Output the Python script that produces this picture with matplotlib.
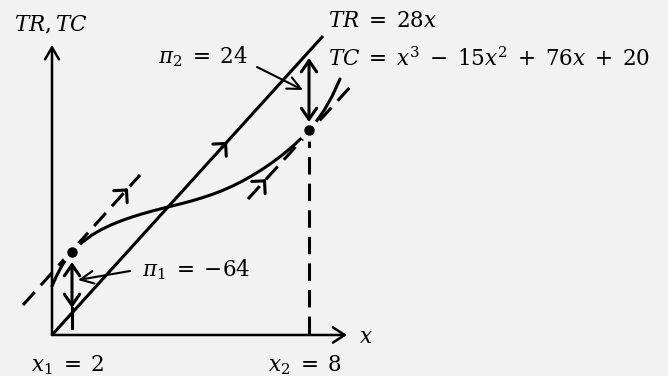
import matplotlib.pyplot as plt

plt.rcParams['mathtext.fontset'] = 'dejavuserif'

# schematic coordinates (1 unit = 10 px, origin at the axes corner)
tc_x = [0.0, 0.5, 1.0, 1.5, 2.0, 2.5, 3.0, 4.0, 5.0, 6.0, 7.0, 8.0, 9.0, 10.0,
        11.0, 12.0, 13.0, 14.0, 15.0, 16.0, 17.0, 18.0, 19.0, 20.0, 21.0, 22.0,
        23.0, 24.0, 25.0, 25.7, 26.5, 27.2, 28.0, 28.8]
tc_y = [4.9, 6.0, 6.95, 7.7, 8.3, 8.8, 9.25, 10.0, 10.58, 11.05, 11.45, 11.8,
        12.11, 12.39, 12.65, 12.9, 13.15, 13.42, 13.72, 14.05, 14.43, 14.87,
        15.37, 15.93, 16.55, 17.23, 17.98, 18.81, 19.75, 20.5, 21.45, 22.45,
        23.85, 25.6]
tr_x = [0.0, 27.1]
tr_y = [0.0, 29.9]
tan1_x = [-2.9, 8.8]
tan1_y = [3.0, 16.0]
tan2_x = [19.6, 30.0]
tan2_y = [13.6, 25.0]
x_marks = [2.0, 25.7]
tc_marks = [8.3, 20.5]
tr_marks = [2.2, 28.3]
x_labels = [r'$x_1\;=\;2$', r'$x_2\;=\;8$']

bg = '#f2f2f2'
fig = plt.figure(figsize=(6.68, 3.76), dpi=100, facecolor=bg)
ax = fig.add_axes([0, 0, 1, 1])
ax.set_facecolor(bg)
ax.set_xlim(-5.2, 61.6)
ax.set_ylim(-4.1, 33.5)
ax.axis('off')

lw = 2.2
dash = (5.7, 3.0)
fs = 15.5


def arrow(p_from, p_to, style, width=lw, z=4):
    ax.annotate('', xy=p_to, xytext=p_from,
                arrowprops=dict(arrowstyle=style, lw=width, color='k',
                                shrinkA=0, shrinkB=0, mutation_scale=10),
                zorder=z)


def chevron(xs, ys, t):
    # small arrow head sitting on a line, pointing up the line
    x = xs[0] + t * (xs[1] - xs[0])
    y = ys[0] + t * (ys[1] - ys[0])
    dx = (xs[1] - xs[0]) * 0.02
    dy = (ys[1] - ys[0]) * 0.02
    arrow((x - dx, y - dy), (x, y), '->,head_length=0.65,head_width=0.65')


# axes
arrow((0, 0), (0, 29.0), '->,head_length=0.85,head_width=0.5', width=1.8)
arrow((0, 0), (29.5, 0), '->,head_length=0.85,head_width=0.55', width=1.8)

# TR, TC and tangents
ax.plot(tr_x, tr_y, color='k', lw=lw, solid_capstyle='butt')
ax.plot(tc_x, tc_y, color='k', lw=lw, solid_capstyle='round',
        solid_joinstyle='round')
ax.plot(tan1_x, tan1_y, color='k', lw=lw, dashes=dash)
ax.plot(tan2_x, tan2_y, color='k', lw=lw, dashes=dash)
chevron(tr_x, tr_y, 0.646)
chevron(tan1_x, tan1_y, 0.897)
chevron(tan2_x, tan2_y, 0.173)

# drop line at x2
ax.plot([x_marks[1], x_marks[1]], [tc_marks[1], 0], color='k', lw=lw, dashes=dash)

# tangency points with a gap around them
ax.plot(x_marks, tc_marks, 'o', ms=15, color=bg, zorder=5)
ax.plot(x_marks, tc_marks, 'o', ms=6.5, color='k', zorder=6)

# profit gaps
dbl = '<->,head_length=0.8,head_width=0.55'
arrow((x_marks[0], tc_marks[0] - 1.0), (x_marks[0], tr_marks[0] + 0.5), dbl, z=7)
ax.plot([x_marks[0], x_marks[0]], [tr_marks[0] + 0.5, 0.7], color='k', lw=lw)
arrow((x_marks[1], tr_marks[1] - 0.6), (x_marks[1], tc_marks[1] + 0.8), dbl, z=7)

# labels
ax.text(-0.1, 31.0, r'$TR,TC$', fontsize=fs, ha='center', va='center')
ax.text(27.6, 31.4, r'$TR\;=\;28x$', fontsize=fs, ha='left', va='center')
ax.text(27.6, 27.7, r'$TC\;=\;x^3\;-\;15x^2\;+\;76x\;+\;20$', fontsize=fs,
        ha='left', va='center')
ax.text(31.4, -0.2, r'$x$', fontsize=fs, ha='center', va='center')
for xm, lab in zip(x_marks, x_labels):
    ax.text(xm - 0.4, -3.0, lab, fontsize=fs, ha='center', va='center')

ptr = '->,head_length=0.95,head_width=0.45'
ax.text(15.1, 27.8, r'$\pi_2\;=\;24$', fontsize=fs, ha='center', va='center')
arrow((20.5, 26.8), (25.1, 24.5), ptr, width=1.5)
ax.text(9.0, 6.5, r'$\pi_1\;=\;{-}64$', fontsize=fs, ha='left', va='center')
arrow((7.8, 6.4), (2.6, 5.5), ptr, width=1.5)

fig.savefig('out.png', dpi=100, facecolor=bg)
